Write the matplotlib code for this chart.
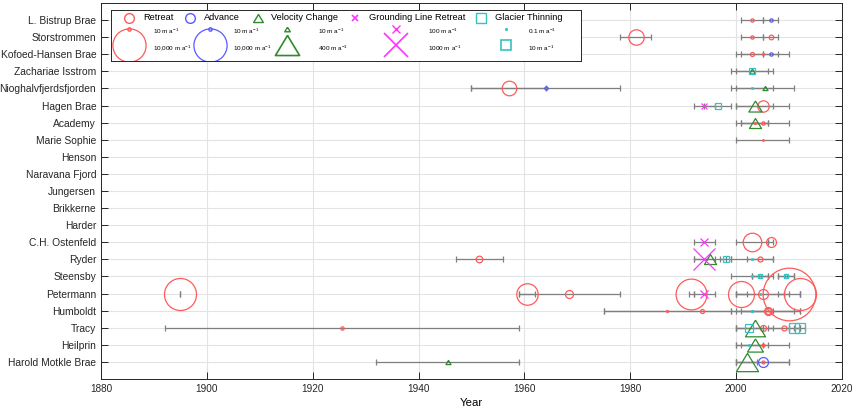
import numpy as np
import matplotlib.pyplot as plt

plt.rcParams['font.family'] = ['Liberation Sans', 'DejaVu Sans']
plt.rcParams['mathtext.fontset'] = 'custom'
plt.rcParams['mathtext.rm'] = 'Liberation Sans'

glaciers = ['L. Bistrup Brae', 'Storstrommen', 'Kofoed-Hansen Brae', 'Zachariae Isstrom',
            'Nioghalvfjerdsfjorden', 'Hagen Brae', 'Academy', 'Marie Sophie', 'Henson',
            'Naravana Fjord', 'Jungersen', 'Brikkerne', 'Harder', 'C.H. Ostenfeld', 'Ryder',
            'Steensby', 'Petermann', 'Humboldt', 'Tracy', 'Heilprin', 'Harold Motkle Brae']

# (glacier, start year, end year, rate in m/a)
retreat = [
    ('L. Bistrup Brae', 2001, 2005, 10),
    ('Storstrommen', 1978, 1984, 1000), ('Storstrommen', 2001, 2005, 10), ('Storstrommen', 2005, 2008, 27),
    ('Kofoed-Hansen Brae', 2001, 2005, 18), ('Kofoed-Hansen Brae', 2000, 2010, 2),
    ('Nioghalvfjerdsfjorden', 1950, 1964, 850),
    ('Hagen Brae', 2000, 2010, 400),
    ('Academy', 2001, 2006, 2), ('Academy', 2000, 2010, 10),
    ('Marie Sophie', 2000, 2010, 1),
    ('C.H. Ostenfeld', 2000, 2006, 1750), ('C.H. Ostenfeld', 2006, 2007, 270),
    ('Ryder', 1947, 1956, 80), ('Ryder', 2002, 2007, 35),
    ('Petermann', 1895, 1895, 9000), ('Petermann', 1959, 1962, 2700), ('Petermann', 1959, 1978, 140),
    ('Petermann', 1991, 1992, 8000), ('Petermann', 2000, 2002, 4800), ('Petermann', 2000, 2010, 270),
    ('Petermann', 2008, 2012, 40000), ('Petermann', 2012, 2012, 9000),
    ('Humboldt', 1975, 1999, 2), ('Humboldt', 1975, 2012, 18),
    ('Humboldt', 2000, 2012, 140), ('Humboldt', 2001, 2011, 60),
    ('Tracy', 1892, 1959, 10), ('Tracy', 2000, 2010, 60), ('Tracy', 2006, 2012, 35),
    ('Heilprin', 2000, 2010, 7),
    ('Harold Motkle Brae', 2000, 2010, 7),
]
advance = [
    ('L. Bistrup Brae', 2005, 2008, 10),
    ('Kofoed-Hansen Brae', 2005, 2008, 10),
    ('Nioghalvfjerdsfjorden', 1950, 1978, 10),
    ('Steensby', 2003, 2006, 18), ('Steensby', 2008, 2011, 18),
    ('Harold Motkle Brae', 2000, 2010, 270),
]
velocity = [
    ('Zachariae Isstrom', 2000, 2006, 12),
    ('Nioghalvfjerdsfjorden', 2000, 2011, 8),
    ('Hagen Brae', 2000, 2007, 90),
    ('Academy', 2001, 2006, 70),
    ('Ryder', 1992, 1998, 70),
    ('Tracy', 2000, 2007, 250),
    ('Heilprin', 2001, 2006, 140),
    ('Harold Motkle Brae', 1932, 1959, 8), ('Harold Motkle Brae', 2000, 2004, 320),
]
grounding = [
    ('Hagen Brae', 1992, 1996, 60),
    ('C.H. Ostenfeld', 1992, 1996, 110),
    ('Ryder', 1992, 1996, 840),
    ('Petermann', 1992, 1996, 85),
]
thinning = [
    ('Zachariae Isstrom', 1999, 2007, 2),
    ('Nioghalvfjerdsfjorden', 1999, 2007, 0.1),
    ('Hagen Brae', 1994, 1999, 3),
    ('Ryder', 1997, 1999, 2), ('Ryder', 1999, 2007, 0.1),
    ('Steensby', 1999, 2007, 0.1), ('Steensby', 2003, 2006, 1.1), ('Steensby', 2008, 2011, 1.1),
    ('Petermann', 2000, 2009, 0.1),
    ('Humboldt', 1999, 2007, 0.3),
    ('Tracy', 2000, 2005, 6), ('Tracy', 2010, 2012, 11), ('Tracy', 2011, 2013, 11),
    ('Heilprin', 2000, 2005, 0.1),
]

PX = 0.72  # points per pixel at 100 dpi

red = '#ff5a5a'
blue = '#5a5aff'
green = '#2e8b2e'
magenta = '#ff33ff'
cyan = '#33c4c4'

# triangle a bit flatter than matplotlib's default
tri = [(0, 0.83), (-1, -0.83), (1, -0.83), (0, 0.83)]

def circle_ms(v):
    return 2 * 0.77 * v ** (1 / 3) * PX

def tri_ms(v):
    return 2 * 1.1 * v ** 0.4 * PX

def x_ms(v):
    return 2 * 0.38 * v ** 0.5 * PX

def sq_ms(v):
    return 2 * 1.9 * v ** 0.4 * PX

styles = [
    (retreat, 'o', red, circle_ms),
    (advance, 'o', blue, circle_ms),
    (velocity, tri, green, tri_ms),
    (grounding, 'x', magenta, x_ms),
    (thinning, 's', cyan, sq_ms),
]

fig = plt.figure(figsize=(8.56, 4.12), dpi=100)
ax = fig.add_axes([101 / 856, 1 - 379 / 412, 741 / 856, 376 / 412])

rows = {g: i + 1 for i, g in enumerate(glaciers)}

for data, marker, col, size in styles:
    for g, t0, t1, v in data:
        mid = (t0 + t1) / 2
        ax.errorbar(mid, rows[g], xerr=(t1 - t0) / 2, fmt='none', ecolor='#7f7f7f',
                    elinewidth=0.9, capsize=2.0, capthick=0.9, zorder=2)
for data, marker, col, size in styles:
    for g, t0, t1, v in data:
        mid = (t0 + t1) / 2
        ax.plot(mid, rows[g], marker=marker, ms=size(v), mfc='none', mec=col,
                mew=0.9, ls='none', zorder=3)

ax.set_xlim(1880, 2020)
ax.set_ylim(22, 0)
ax.set_xticks(np.arange(1880, 2021, 20))
ax.set_yticks(np.arange(1, len(glaciers) + 1))
ax.set_yticklabels(glaciers)
ax.tick_params(direction='in', length=5, width=0.7, colors='#262626', labelsize=7.4,
               top=True, right=True)
ax.tick_params(axis='x', labelsize=7.2)
ax.grid(True, color='#e3e3e3', lw=0.8, zorder=0)
ax.set_axisbelow(True)
for s in ax.spines.values():
    s.set_color('#262626')
    s.set_linewidth(0.7)
ax.set_xlabel('Year', fontsize=8.2, labelpad=3)

# legend box, laid out in pixel units
lax = fig.add_axes([111 / 856, 1 - 61 / 412, 470 / 856, 51 / 412])
lax.set_xlim(0, 470)
lax.set_ylim(51, 0)
lax.set_xticks([])
lax.set_yticks([])
for s in lax.spines.values():
    s.set_color('#262626')
    s.set_linewidth(0.7)

entries = [
    ('Retreat', 'o', red, circle_ms, 18, 32, (10, 10000), ('10 m a', '10,000 m a'), 42),
    ('Advance', 'o', blue, circle_ms, 79, 93, (10, 10000), ('10 m a', '10,000 m a'), 122),
    ('Velocity Change', tri, green, tri_ms, 147, 160, (10, 400), ('10 m a', '400 m a'), 207),
    ('Grounding Line Retreat', 'x', magenta, x_ms, 244, 258, (100, 1000), ('100 m a', '1000 m a'), 317),
    ('Glacier Thinning', 's', cyan, sq_ms, 370, 384, (0.1, 10), ('0.1 m a', '10 m a'), 417),
]
scale_x = [18, 99, 176, 285, 395]
for (lab, marker, col, size, mx, tx, vals, vlabs, vx), sx in zip(entries, scale_x):
    lax.plot(mx, 7.5, marker=marker, ms=7 if marker != 'x' else 5, mfc='none', mec=col,
             mew=1.0 if marker != 'x' else 1.2, ls='none')
    lax.text(tx, 7.5, lab, fontsize=6.7, va='center', ha='left')
    lax.plot(sx, 19, marker=marker, ms=size(vals[0]), mfc='none', mec=col, mew=1.0, ls='none')
    lax.plot(sx, 35, marker=marker, ms=size(vals[1]), mfc='none', mec=col,
             mew=1.2 if marker != 'o' else 0.9, ls='none')
    lax.text(vx, 21.5, vlabs[0] + r'$^{\mathregular{-1}}$', fontsize=4.6, va='center')
    lax.text(vx, 38, vlabs[1] + r'$^{\mathregular{-1}}$', fontsize=4.6, va='center')

fig.savefig('out.png', dpi=100)
